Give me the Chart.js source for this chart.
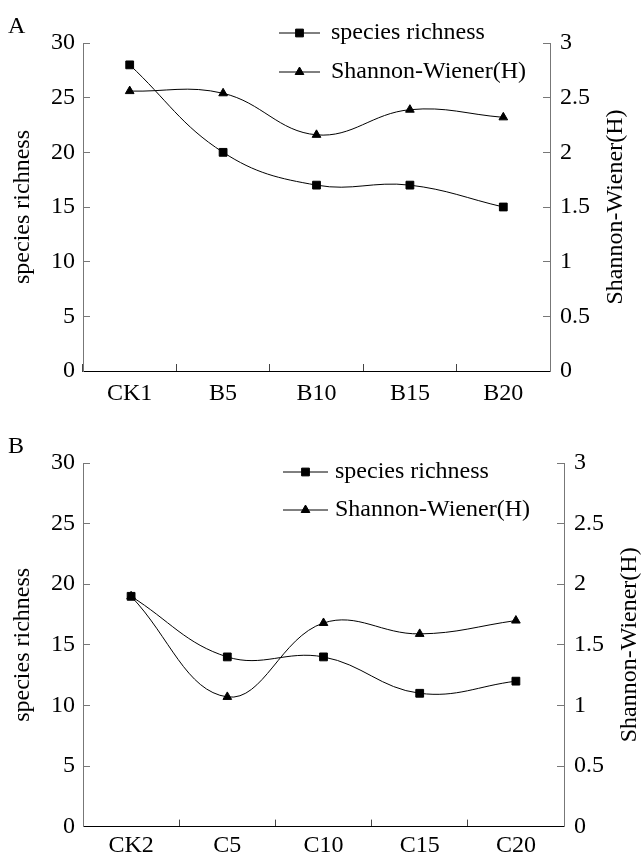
<!DOCTYPE html>
<html>
<head>
<meta charset="utf-8">
<script src="https://cdn.jsdelivr.net/npm/chart.js@4/dist/chart.umd.min.js"></script>
<style>
  body { margin: 0; background: #fff; }
  #page { position: relative; width: 644px; height: 858px; font-family: "Liberation Serif", serif; color: #000; }
  .panel { position: absolute; left: 0; width: 644px; }
  .tag { position: absolute; left: 8px; font-size: 24px; line-height: 24px; }
</style>
</head>
<body>
<div id="page">
  <div class="panel" style="top:0;height:420px"><canvas id="chart-a" width="644" height="420"></canvas></div>
  <div class="panel" style="top:420px;height:438px"><canvas id="chart-b" width="644" height="438"></canvas></div>
  <div class="tag" style="top:13px">A</div>
  <div class="tag" style="top:433px">B</div>
</div>
<script>
const seriesNames = ["species richness", "Shannon-Wiener(H)"];

const categoriesA = ["CK1", "B5", "B10", "B15", "B20"];
const richnessA = [28, 20, 17, 17, 15];
const shannonA = [2.56, 2.54, 2.16, 2.39, 2.32];

const categoriesB = ["CK2", "C5", "C10", "C15", "C20"];
const richnessB = [19, 14, 14, 11, 12];
const shannonB = [1.9, 1.07, 1.68, 1.59, 1.7];

const richnessTicks = [0, 5, 10, 15, 20, 25, 30];
const shannonTicks = [0, 0.5, 1, 1.5, 2, 2.5, 3];

const fontFamily = "'Liberation Serif', 'Times New Roman', serif";
const fontSize = 24;
const axisGrey = "#777";

// legend stacked inside the plot, plus the right-hand title which reads bottom-to-top
const panelExtras = {
  id: "panelExtras",
  afterDatasetsDraw(chart, args, opts) {
    const ctx = chart.ctx;
    const area = chart.chartArea;
    ctx.save();
    ctx.font = `${fontSize}px ${fontFamily}`;
    ctx.textBaseline = "middle";
    ctx.textAlign = "left";
    chart.data.datasets.forEach((ds, i) => {
      const y = opts.rows[i];
      ctx.strokeStyle = "#000";
      ctx.fillStyle = "#000";
      ctx.lineWidth = 1;
      ctx.beginPath();
      ctx.moveTo(opts.x1, y);
      ctx.lineTo(opts.x2, y);
      ctx.stroke();
      Chart.helpers.drawPoint(ctx, {
        pointStyle: ds.pointStyle,
        radius: ds.pointRadius,
        borderWidth: 1,
        rotation: 0,
      }, (opts.x1 + opts.x2) / 2, y);
      ctx.fillStyle = "#000";
      ctx.fillText(ds.label, opts.textX, y);
    });

    ctx.translate(opts.rightTitleX, (area.top + area.bottom) / 2);
    ctx.rotate(-Math.PI / 2);
    ctx.textAlign = "center";
    ctx.fillText(seriesNames[1], 0, 0);
    ctx.restore();
  },
};

function buildChart(canvasId, labels, richness, shannon, layout) {
  const tickFont = { family: fontFamily, size: fontSize };
  return new Chart(document.getElementById(canvasId), {
    type: "line",
    data: {
      labels: labels,
      datasets: [
        {
          label: seriesNames[0],
          data: richness,
          yAxisID: "y",
          borderColor: "#000",
          backgroundColor: "#000",
          borderWidth: 1,
          pointStyle: "rect",
          pointRadius: 5.5,
          pointBorderWidth: 1,
          tension: 0.4,
        },
        {
          label: seriesNames[1],
          data: shannon,
          yAxisID: "y1",
          borderColor: "#000",
          backgroundColor: "#000",
          borderWidth: 1,
          pointStyle: "triangle",
          pointRadius: 5,
          pointBorderWidth: 1,
          tension: 0.4,
        },
      ],
    },
    options: {
      responsive: false,
      animation: false,
      layout: { padding: { top: 43, left: 0, right: 0, bottom: 0 } },
      plugins: {
        legend: { display: false },
        tooltip: { enabled: false },
        panelExtras: layout.extras,
      },
      scales: {
        x: {
          offset: true,
          grid: { offset: true, drawOnChartArea: false, tickLength: -7, color: "#444" },
          border: { color: "#000", width: 1 },
          ticks: { color: "#000", font: tickFont, padding: layout.xPad, maxRotation: 0 },
          afterFit: (scale) => { scale.height = layout.xHeight; },
        },
        y: {
          position: "left",
          min: 0,
          max: 30,
          afterBuildTicks: (scale) => { scale.ticks = richnessTicks.map((v) => ({ value: v })); },
          grid: { drawOnChartArea: false, tickLength: -7, color: axisGrey },
          border: { color: axisGrey, width: 1 },
          ticks: { color: "#000", font: tickFont, padding: 15 },
          title: {
            display: true,
            text: seriesNames[0],
            color: "#000",
            font: tickFont,
            padding: { top: 8, bottom: 0 },
          },
          afterFit: (scale) => { scale.width = 83; },
        },
        y1: {
          position: "right",
          min: 0,
          max: 3,
          afterBuildTicks: (scale) => { scale.ticks = shannonTicks.map((v) => ({ value: v })); },
          grid: { drawOnChartArea: false, tickLength: -7, color: axisGrey },
          border: { color: axisGrey, width: 1 },
          ticks: { color: "#000", font: tickFont, padding: 17, callback: (v) => String(v) },
          afterFit: (scale) => { scale.width = layout.rightWidth; },
        },
      },
    },
    plugins: [panelExtras],
  });
}

buildChart("chart-a", categoriesA, richnessA, shannonA, {
  xHeight: 49,
  xPad: 15,
  rightWidth: 94,
  extras: { x1: 279, x2: 320, textX: 331, rows: [33, 72], rightTitleX: 616 },
});

buildChart("chart-b", categoriesB, richnessB, shannonB, {
  xHeight: 30,
  xPad: 12,
  rightWidth: 80,
  extras: { x1: 283, x2: 328, textX: 335, rows: [52, 90], rightTitleX: 630 },
});
</script>
</body>
</html>
